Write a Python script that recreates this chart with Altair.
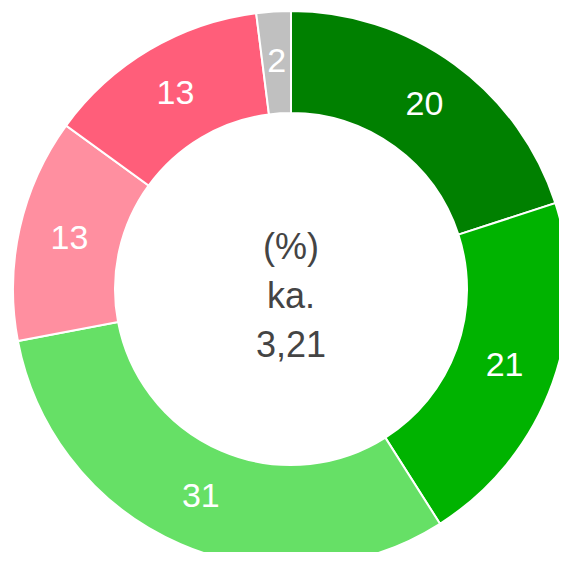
import altair as alt
import pandas as pd

categories = ["A", "B", "C", "D", "E", "F"]
values = [20, 21, 31, 13, 13, 2]
colors = ["#008000", "#00b300", "#66e066", "#ff8fa0", "#ff5e7a", "#c0c0c0"]
center_lines = ["(%)", "ka.", "3,21"]

df = pd.DataFrame({"cat": categories, "value": values, "order": list(range(len(values)))})

CX, CY = 283, 281
R_OUT, R_IN = 278, 176

base = alt.Chart(df).encode(
    theta=alt.Theta("value:Q", stack=True),
    order=alt.Order("order:Q"),
    color=alt.Color("cat:N", scale=alt.Scale(domain=categories, range=colors), legend=None),
)

arcs = base.mark_arc(outerRadius=R_OUT, innerRadius=R_IN, stroke="white", strokeWidth=2).encode(
    x=alt.value(CX), y=alt.value(CY)
)

labels = base.mark_text(radius=(R_OUT + R_IN) / 2, fontSize=34, font="Liberation Sans", baseline="middle").encode(
    text=alt.Text("value:Q"), x=alt.value(CX), y=alt.value(CY), color=alt.value("white")
)

center = alt.Chart(pd.DataFrame({"t": ["\n".join(center_lines)]})).mark_text(
    fontSize=36, font="Liberation Sans", color="#444444", lineBreak="\n", lineHeight=49, baseline="alphabetic"
).encode(text="t:N", x=alt.value(CX), y=alt.value(251))

chart = (arcs + labels + center).properties(
    width=551, height=544, autosize=alt.AutoSizeParams(type="none"), padding=0
).configure_view(stroke=None)

chart.save("out.html", embed_options={"renderer": "svg", "actions": False})
